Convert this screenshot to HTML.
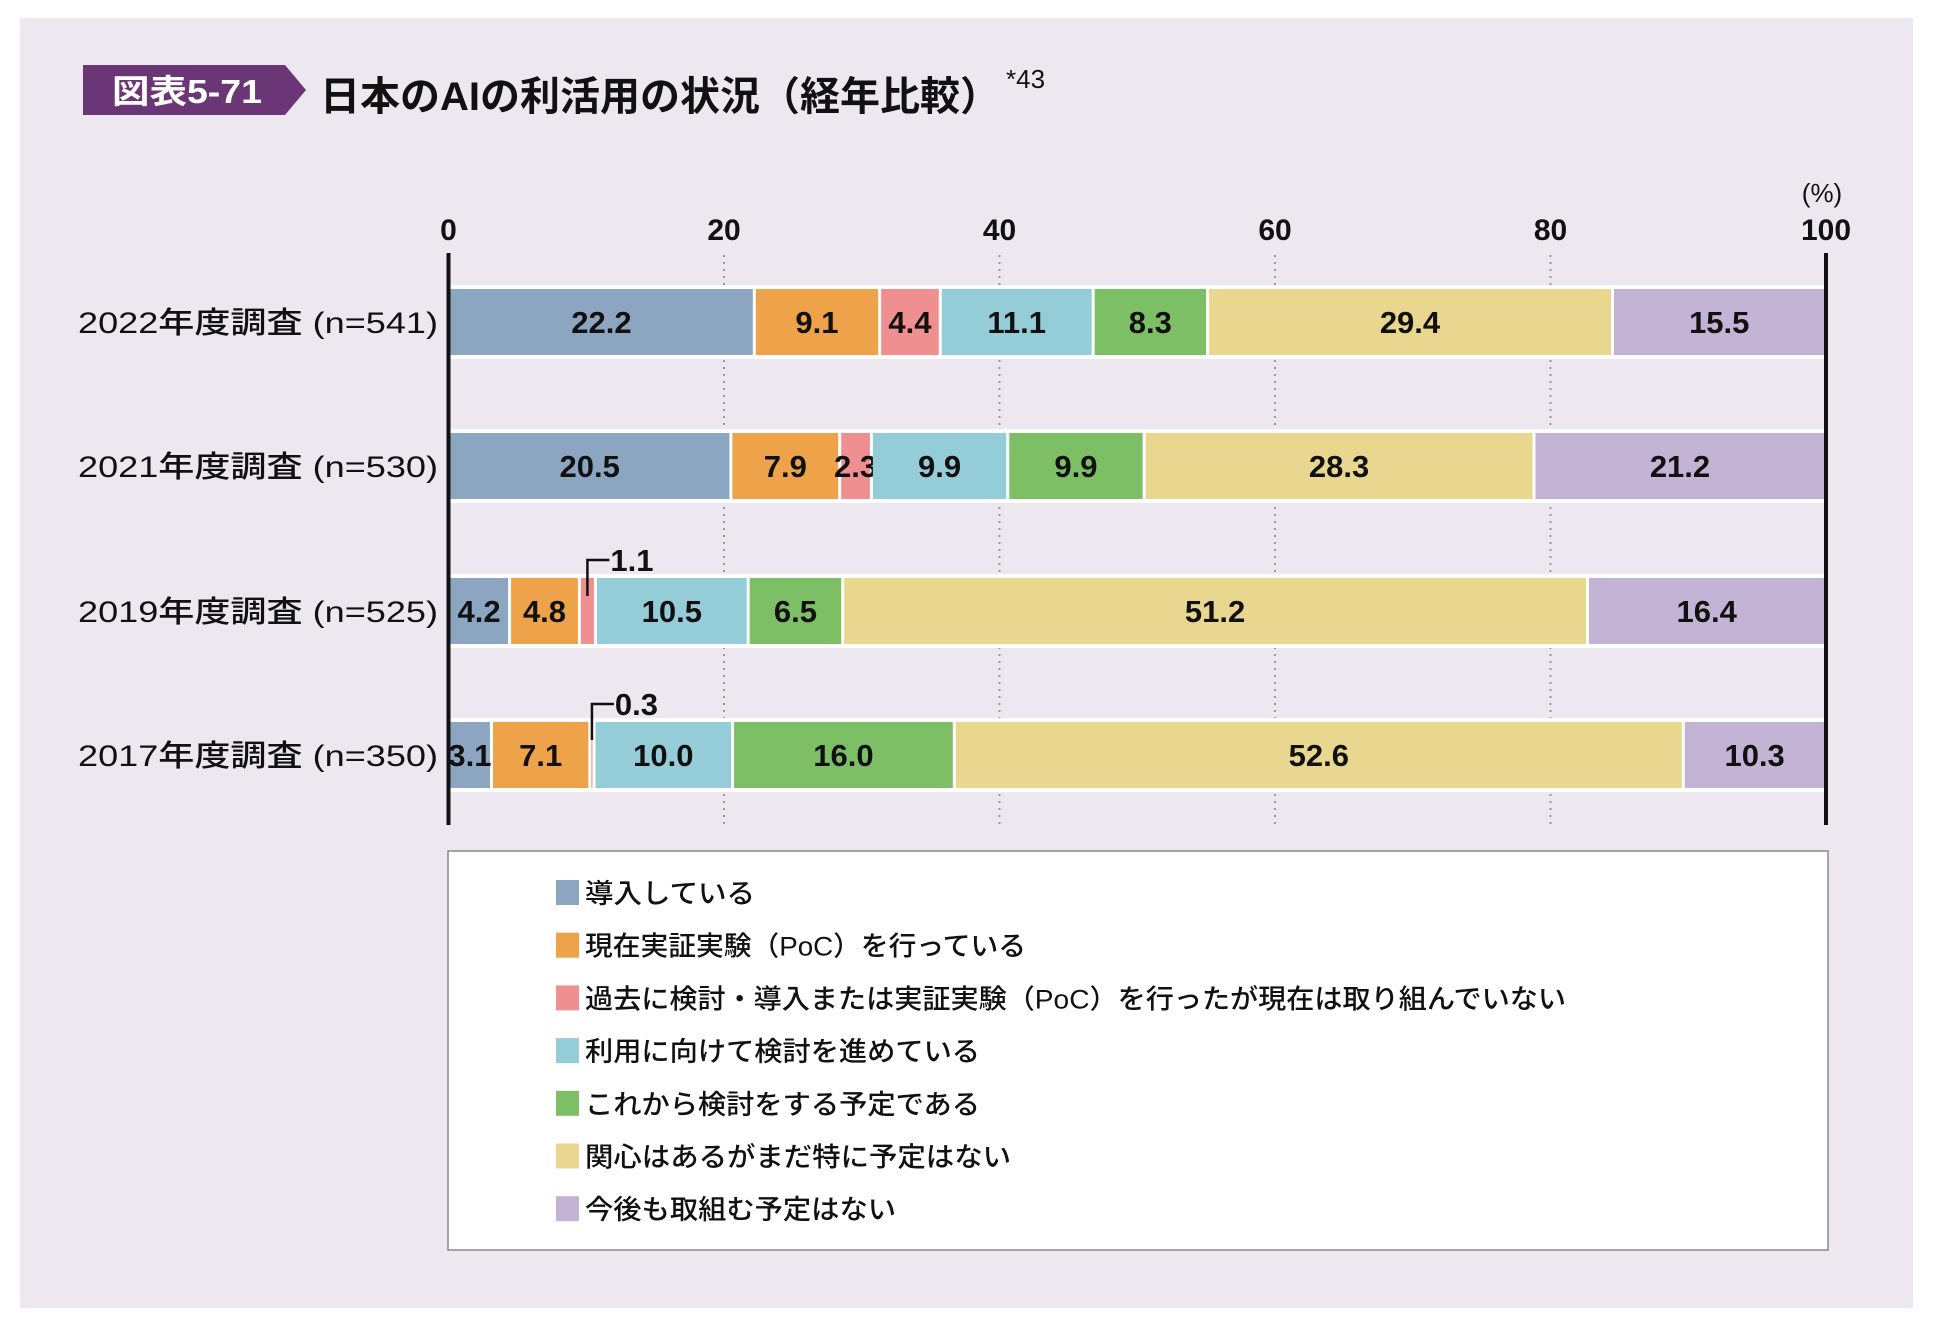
<!DOCTYPE html>
<html><head><meta charset="utf-8"><style>
html,body{margin:0;padding:0;background:#fff;}
svg{display:block;}
text{font-family:"Liberation Sans","Noto Sans CJK JP",sans-serif;}
</style></head><body>
<svg id="s" width="1935" height="1330" viewBox="0 0 1935 1330" xmlns="http://www.w3.org/2000/svg">
<rect x="0" y="0" width="1935" height="1330" fill="#fff"/>
<rect x="20" y="18" width="1893" height="1290" fill="#ede8f0"/>
<polygon points="83,65 285,65 306,90 285,115 83,115" fill="#6b3676"/>
<text x="112" y="103" font-size="33" font-weight="bold" fill="#fff" textLength="150" lengthAdjust="spacingAndGlyphs">図表5-71</text>
<text x="320" y="110" font-size="40" font-weight="bold" fill="#111" textLength="680" lengthAdjust="spacingAndGlyphs">日本のAIの利活用の状況（経年比較）</text>
<text x="1006" y="88" font-size="26" fill="#111">*43</text>
<text x="1822" y="202" font-size="26" fill="#111" text-anchor="middle">(%)</text>
<g id="g"></g>
<rect x="448" y="851" width="1380" height="399" fill="#fff" stroke="#888" stroke-width="1.5"/>
<g id="leg"></g>
</svg>
<script>
var NS="http://www.w3.org/2000/svg",g=document.getElementById('g'),L=document.getElementById('leg');
function el(p,t,a,txt){var e=document.createElementNS(NS,t);for(var k in a)e.setAttribute(k,a[k]);if(txt!=null)e.textContent=txt;p.appendChild(e);return e;}
var x0=448.5,W=1377.5;
var cols=["#8ca5c0","#eea24a","#ef8f8f","#94ccd8","#7dbf65","#e9d790","#c3b3d4"];
for(var i=0;i<=5;i++){var x=x0+W*i/5;
 el(g,'text',{x:x,y:240,'font-size':30,'font-weight':'bold','text-anchor':'middle',fill:'#111','font-family':'Liberation Sans Narrow, Liberation Sans, sans-serif'},String(i*20));
 if(i>0&&i<5) el(g,'line',{x1:x,y1:255,x2:x,y2:824,stroke:'#999','stroke-width':2,'stroke-dasharray':'2,5'});}
var rows=[
["2022年度調査 (n=541)",[22.2,9.1,4.4,11.1,8.3,29.4,15.5],289],
["2021年度調査 (n=530)",[20.5,7.9,2.3,9.9,9.9,28.3,21.2],433],
["2019年度調査 (n=525)",[4.2,4.8,1.1,10.5,6.5,51.2,16.4],578],
["2017年度調査 (n=350)",[3.1,7.1,0.3,10.0,16.0,52.6,10.3],722]];
var H=66;
rows.forEach(function(r,ri){
 var y=r[2],v=r[1],sum=v.reduce(function(a,b){return a+b},0);
 el(g,'rect',{x:x0+2,y:y-4,width:W,height:H+8,fill:'#fff'});
 el(g,'text',{x:438,y:y+H/2+11,'font-size':30,'font-weight':'500','text-anchor':'end',fill:'#111',textLength:360,lengthAdjust:'spacingAndGlyphs'},r[0]);
 var cx=x0;
 v.forEach(function(val,i){
  var w=W*val/sum,xs=cx+(i==0?2:1.5),xe=cx+w-1.5;
  if(xe>xs) el(g,'rect',{x:xs,y:y,width:xe-xs,height:H,fill:cols[i]});
  var small=(ri>=2&&i==2);
  if(!small){
   el(g,'text',{x:cx+w/2,y:y+H/2+11,'font-size':31,'font-weight':'bold','text-anchor':'middle',fill:'#111','font-family':'Liberation Sans Narrow, Liberation Sans, sans-serif'},val.toFixed(1));
  } else {
   var mx=cx+w/2;
   el(g,'polyline',{points:mx+','+(y+18)+' '+mx+','+(y-18)+' '+(mx+22)+','+(y-18),fill:'none',stroke:'#111','stroke-width':2.5});
   el(g,'text',{x:mx+23,y:y-7,'font-size':31,'font-weight':'bold',fill:'#111','font-family':'Liberation Sans Narrow, Liberation Sans, sans-serif'},val.toFixed(1));
  }
  cx+=w;});
});
el(g,'line',{x1:x0,y1:253,x2:x0,y2:825,stroke:'#111','stroke-width':4});
el(g,'line',{x1:x0+W,y1:253,x2:x0+W,y2:825,stroke:'#111','stroke-width':4});
var leg=["導入している","現在実証実験（PoC）を行っている","過去に検討・導入または実証実験（PoC）を行ったが現在は取り組んでいない","利用に向けて検討を進めている","これから検討をする予定である","関心はあるがまだ特に予定はない","今後も取組む予定はない"];
var lw=[170,441,981,395,395,426,311];
leg.forEach(function(t,i){var y=893+i*52.7;
 el(L,'rect',{x:556,y:y-13,width:23,height:25,fill:cols[i]});
 el(L,'text',{x:585,y:y+10,'font-size':27,'font-weight':'500',fill:'#111',textLength:lw[i],lengthAdjust:'spacingAndGlyphs'},t);});
</script>
</body></html>
